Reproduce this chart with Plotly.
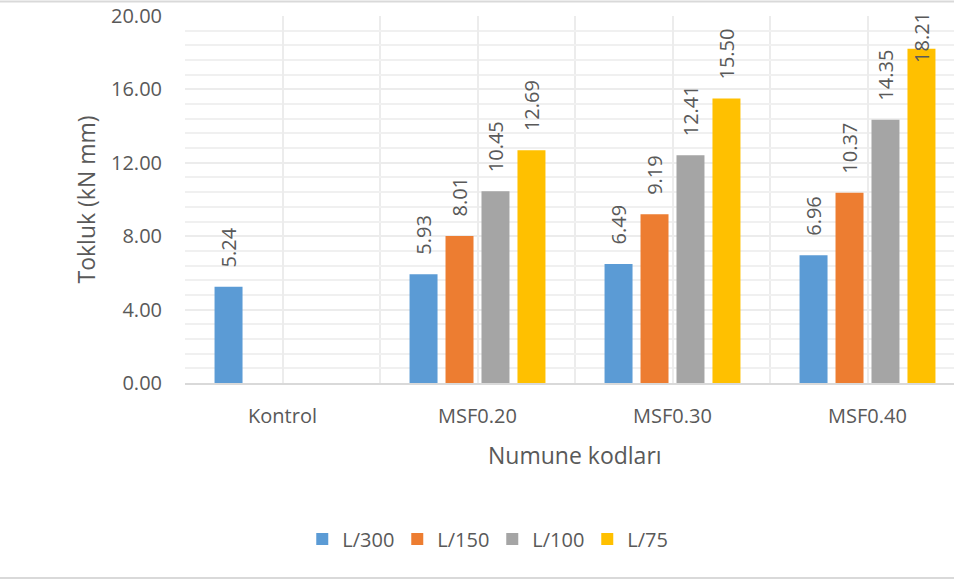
import plotly.graph_objects as go

# ---- data ----
categories = ["Kontrol", "MSF0.20", "MSF0.30", "MSF0.40"]
series_names = ["L/300", "L/150", "L/100", "L/75"]
l300 = [5.24, 5.93, 6.49, 6.96]
l150 = [None, 8.01, 9.19, 10.37]
l100 = [None, 10.45, 12.41, 14.35]
l75 = [None, 12.69, 15.50, 18.21]
y_tick_vals = [0, 4, 8, 12, 16, 20]
x_title = "Numune kodları"
y_title = "Tokluk (kN mm)"

# ---- style ----
colors = ["#5B9BD5", "#ED7D31", "#A5A5A5", "#FFC000"]
FONT = "Open Sans"
TXT = "#595959"
W, H = 954, 580
ML, MT, MB, MR = 185, 16, 197, 0
CAT_PX = 195.0
bargap = 0.262
bargroupgap = 0.222

series = [l300, l150, l100, l75]
x_idx = list(range(len(categories)))
n_series = len(series)
slot = (1 - bargap) / n_series
plot_w = W - ML - MR
plot_h = H - MT - MB
x_range = [-0.5, -0.5 + plot_w / CAT_PX]

fig = go.Figure()
for name, vals, col in zip(series_names, series, colors):
    fig.add_trace(go.Bar(x=x_idx, y=vals, name=name, marker_color=col,
                         marker_line_width=0))

ymax = y_tick_vals[-1]
annotations = []
for j, vals in enumerate(series):
    for i, v in enumerate(vals):
        if v is None:
            continue
        xpos = i + (j - (n_series - 1) / 2) * slot
        if v <= 17:
            annotations.append(dict(x=xpos, y=v, xref="x", yref="y", text=f"{v:.2f}",
                                    textangle=-90, showarrow=False, yanchor="bottom",
                                    xanchor="center", yshift=17,
                                    font=dict(family=FONT, size=20, color=TXT)))
        else:
            annotations.append(dict(x=xpos, y=ymax, xref="x", yref="y", text=f"{v:.2f}",
                                    textangle=-90, showarrow=False, yanchor="top",
                                    xanchor="center", yshift=6,
                                    font=dict(family=FONT, size=20, color=TXT)))

# axis titles
annotations.append(dict(x=(len(categories) - 1) / 2, y=(383 - 455) / plot_h, xref="x", yref="paper",
                        text=x_title, showarrow=False, xanchor="center", yanchor="middle",
                        font=dict(family=FONT, size=23, color=TXT)))
annotations.append(dict(x=(85 - ML) / plot_w, y=0.5, xref="paper", yref="paper",
                        text=y_title, textangle=-90, showarrow=False,
                        xanchor="center", yanchor="middle",
                        font=dict(family=FONT, size=23, color=TXT)))

shapes = [
    dict(type="line", xref="paper", yref="paper", x0=-ML / plot_w, x1=1.0,
         y0=(383 - 1.5) / plot_h, y1=(383 - 1.5) / plot_h, line=dict(color="#d9d9d9", width=2)),
    dict(type="line", xref="paper", yref="paper", x0=-ML / plot_w, x1=1.0,
         y0=(383 - 578) / plot_h, y1=(383 - 578) / plot_h, line=dict(color="#d9d9d9", width=2)),
]

fig.update_layout(
    width=W, height=H,
    margin=dict(l=ML, r=MR, t=MT, b=MB, pad=0),
    paper_bgcolor="white", plot_bgcolor="white",
    barmode="group", bargap=bargap, bargroupgap=bargroupgap,
    font=dict(family=FONT, size=20, color=TXT),
    showlegend=True,
    legend=dict(orientation="h", xref="container", yref="container",
                x=0.516, y=1 - 539 / H, xanchor="center", yanchor="middle",
                entrywidth=50, entrywidthmode="pixels",
                font=dict(family=FONT, size=20, color=TXT), traceorder="normal"),
    annotations=annotations,
    shapes=shapes,
)
fig.update_xaxes(range=x_range, tickvals=x_idx, ticktext=categories, ticks="",
                 showgrid=True, gridcolor="#ececec", gridwidth=1.5,
                 minor=dict(showgrid=True, dtick=0.5, tick0=-0.5, gridcolor="#ececec", gridwidth=1.5),
                 showline=True, linecolor="#d9d9d9", linewidth=2,
                 tickfont=dict(family=FONT, size=20, color=TXT), ticklabelstandoff=14,
                 zeroline=False, fixedrange=True)
fig.update_yaxes(range=[0, ymax], tickvals=y_tick_vals, tickformat=".2f", ticks="",
                 showgrid=True, gridcolor="#ececec", gridwidth=1.5,
                 minor=dict(showgrid=True, dtick=0.8, tick0=0, gridcolor="#f0f0f0", gridwidth=1.5),
                 showline=False, zeroline=False,
                 tickfont=dict(family=FONT, size=20, color=TXT), ticklabelstandoff=22)

fig.write_html("out.html", config={"displayModeBar": False},
               post_script="document.body.style.margin='0';document.body.style.overflow='hidden';")
